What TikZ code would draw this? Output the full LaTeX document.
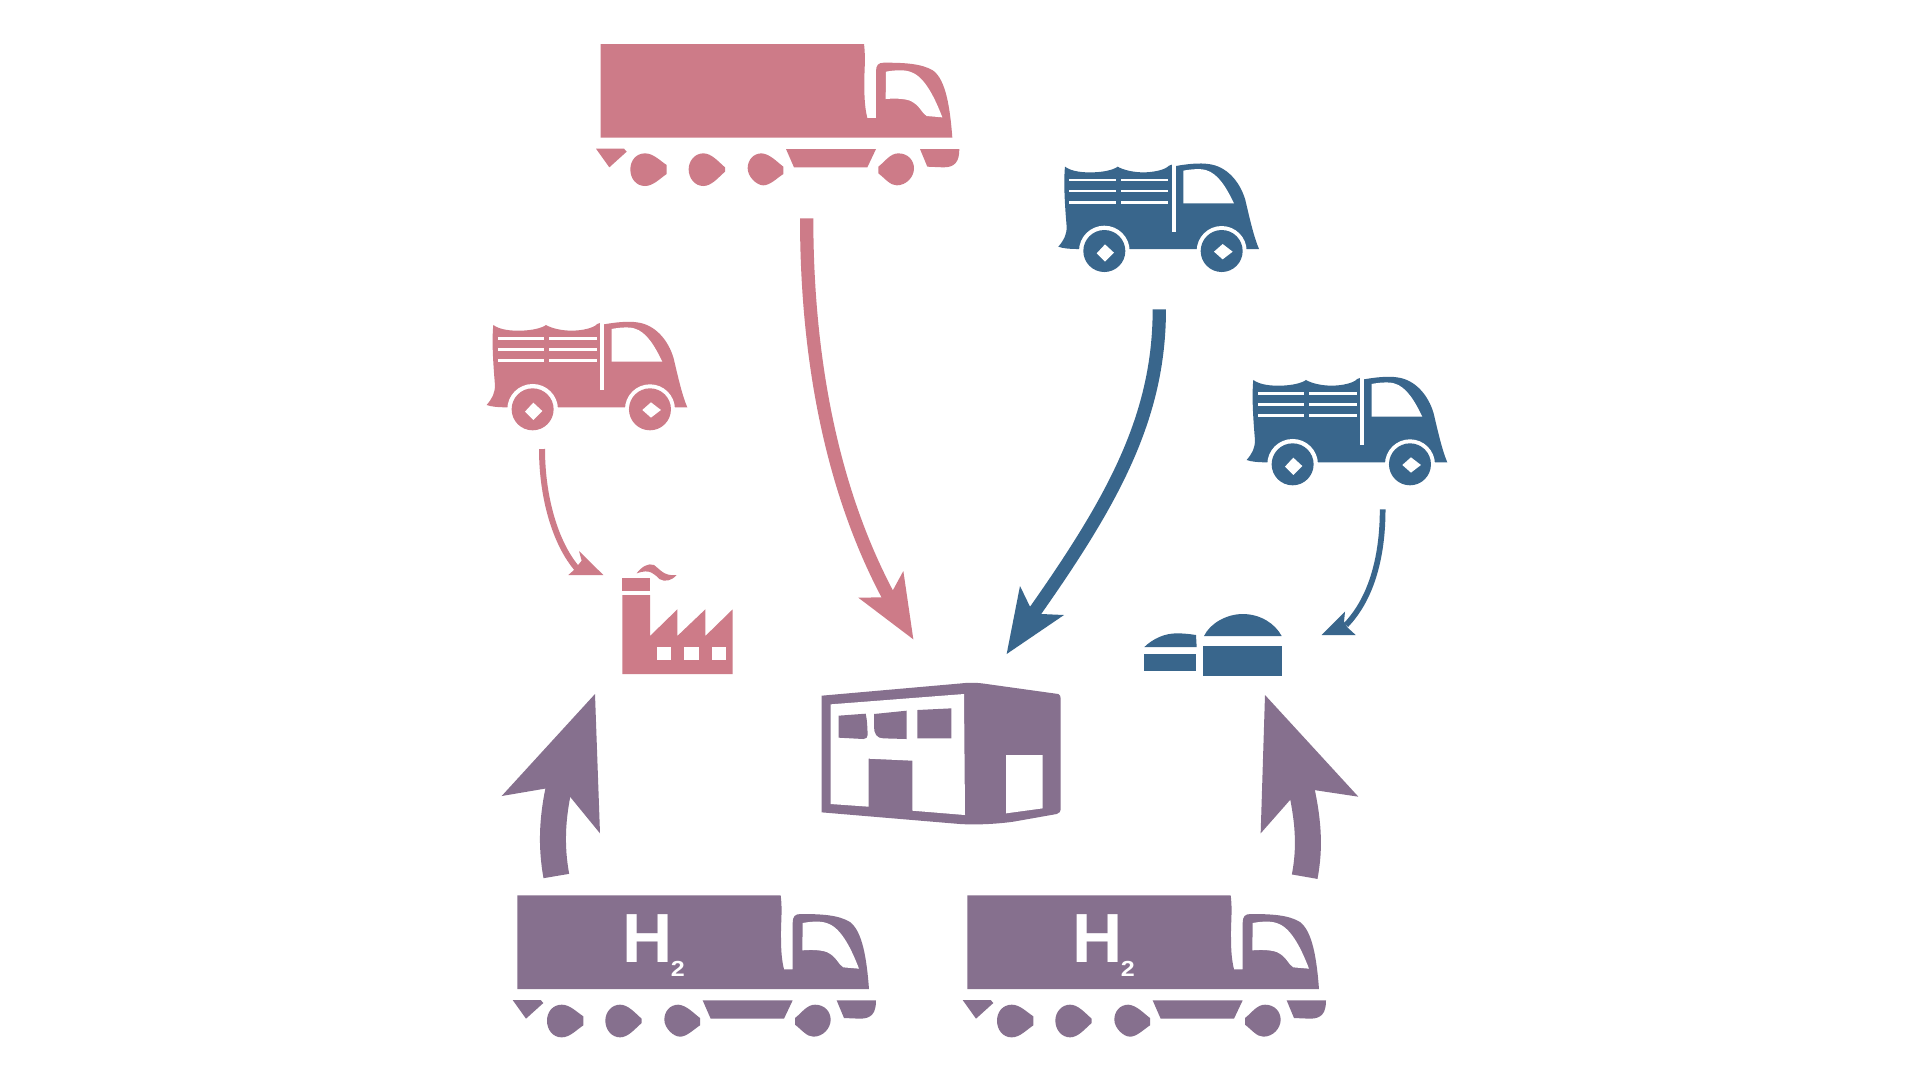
\documentclass[tikz,border=0pt]{standalone}
\usepackage{fontspec}
\setmainfont{Liberation Sans}
\definecolor{rose}{RGB}{205,123,136}
\definecolor{steel}{RGB}{57,102,140}
\definecolor{plum}{RGB}{134,112,142}
\newcommand{\longtruckbody}{%
    \fill[pic actions] (62,42) -- (852,42) .. controls (858,90) and (852,120) .. (853,170) .. controls (853,210) and (856,240) .. (862,264)
      -- (888,264) -- (888,125) .. controls (888,105) and (895,98) .. (912,98) .. controls (970,98) and (1025,100) .. (1060,122)
      .. controls (1097,150) and (1110,230) .. (1117,323) -- (62,323) -- cycle;
    \fill[white] (918,125) .. controls (945,120) and (975,118) .. (995,127) .. controls (1035,142) and (1065,205) .. (1087,262)
      -- (1040,258) .. controls (1025,250) and (1020,225) .. (990,212) .. controls (970,205) and (940,205) .. (917,207) -- cycle;
    \fill[pic actions] (48,356) -- (132,356) -- (140,365) -- (88,412) -- cycle;
    \fill[pic actions] (195,370) .. controls (220,370) and (240,392) .. (260,405) -- (260,432) .. controls (240,445) and (220,468) .. (195,468)
      .. controls (168,468) and (151,445) .. (151,418) .. controls (151,392) and (168,370) .. (195,370) -- cycle;
    \fill[pic actions] (370,370) .. controls (395,370) and (415,395) .. (435,412) -- (435,425) .. controls (415,442) and (395,468) .. (370,468)
      .. controls (345,468) and (326,445) .. (326,418) .. controls (326,392) and (345,370) .. (370,370) -- cycle;
    \fill[pic actions] (545,370) .. controls (570,372) and (590,395) .. (610,410) -- (610,432) .. controls (590,445) and (570,466) .. (550,466)
      .. controls (530,466) and (503,440) .. (503,415) .. controls (503,390) and (520,370) .. (545,370) -- cycle;
    \fill[pic actions] (618,357) -- (888,357) -- (862,412) -- (642,412) -- cycle;
    \fill[pic actions] (955,370) .. controls (985,370) and (1002,392) .. (1002,415) .. controls (1002,440) and (980,466) .. (950,466)
      .. controls (930,466) and (915,445) .. (895,430) -- (895,410) .. controls (915,395) and (930,370) .. (955,370) -- cycle;
    \fill[pic actions] (1020,357) -- (1138,357) .. controls (1138,395) and (1125,412) .. (1090,412) -- (1042,410) -- cycle;
}
\tikzset{
  stem/.style={line cap=butt},
  pics/longtruck/.style={code={\longtruckbody}},
  pics/hydrogentruck/.style={code={
    \longtruckbody
    \node[anchor=base west,inner sep=0pt,text=white,font=\bfseries\fontsize{19.8}{20}\selectfont] (label) at (376,243)
      {H\hspace{-0.6pt}\raisebox{-3.9pt}{\scalebox{1.15}[1]{\bfseries\fontsize{6.2}{7}\selectfont 2}}};
  }},
  pics/smalltruck/.style={code={
    \fill[pic actions] (75,50) .. controls (95,65) and (130,68) .. (160,67) .. controls (190,66) and (220,60) .. (233,50)
      .. controls (250,60) and (280,67) .. (310,67) .. controls (340,67) and (375,60) .. (387,47) -- (395,44) -- (408,48)
      .. controls (440,42) and (480,38) .. (505,42) .. controls (560,48) and (600,95) .. (616,150)
      .. controls (630,210) and (642,262) .. (657,297) -- (275,297) -- (110,297)
      .. controls (90,297) and (68,295) .. (55,290) .. controls (72,270) and (80,255) .. (80,230)
      .. controls (75,170) and (70,100) .. (75,50) -- cycle;
    \fill[white] (193,303) circle[radius=76];
    \fill[white] (545,303) circle[radius=75];
    \fill[pic actions] (193,303) circle[radius=63];
    \fill[pic actions] (545,303) circle[radius=63];
    \fill[white] (195,283) -- (222,308) -- (195,335) -- (170,310) -- cycle;
    \fill[white] (548,282) -- (578,305) -- (548,328) -- (522,305) -- cycle;
    \foreach \yy in {90,123,157}{
      \fill[white] (88,\yy-4) rectangle (228,\yy+4);
      \fill[white] (243,\yy-4) rectangle (385,\yy+4);
    }
    \fill[white] (395,42) rectangle (408,245);
    \fill[white] (430,62) .. controls (450,58) and (480,55) .. (497,60) .. controls (535,70) and (560,115) .. (582,160) -- (430,160) -- cycle;
  }}
}
\begin{document}
\begin{tikzpicture}[x=0.1mm,y=-0.1mm]
\useasboundingbox (0,0) rectangle (1920,1080);
\fill[white] (0,0) rectangle (1920,1080);

% vehicles
\pic (toptruck) [shift={(580,30)},scale=0.33333,fill=rose] {longtruck};
\pic (hleft) [shift={(496.67,881.33)},scale=0.33333,fill=plum] {hydrogentruck};
\pic (hright) [shift={(946.67,881.33)},scale=0.33333,fill=plum] {hydrogentruck};
\pic (bluevanone) [shift={(1040,150)},scale=0.33333,fill=steel] {smalltruck};
\pic (bluevantwo) [shift={(1228.3,363.3)},scale=0.33333,fill=steel] {smalltruck};
\pic (rosevan) [shift={(468.3,308.3)},scale=0.33333,fill=rose] {smalltruck};

% factory
\begin{scope}[shift={(600,550)},scale=0.33333]
  \fill[rose] (67,85) rectangle (150,122);
  \fill[rose] (67,135) -- (150,135) -- (150,258) -- (232,178) -- (232,258) -- (316,178) -- (316,258) -- (398,178) -- (398,372) -- (67,372) -- cycle;
  \fill[white] (170,290) rectangle (212,330);
  \fill[white] (253,290) rectangle (296,330);
  \fill[white] (336,290) rectangle (379,330);
  \fill[rose] (110,70) .. controls (125,50) and (145,38) .. (162,45) .. controls (178,55) and (190,80) .. (230,75)
    .. controls (215,92) and (195,97) .. (178,87) .. controls (163,72) and (150,55) .. (110,70) -- cycle;

  % warehouse
  \fill[plum] (665,437) -- (1085,400) .. controls (1110,397) and (1135,398) .. (1160,402) -- (1375,432)
    .. controls (1380,434) and (1382,440) .. (1382,445) -- (1382,775) .. controls (1382,785) and (1378,790) .. (1370,792)
    -- (1240,815) .. controls (1190,822) and (1130,825) .. (1080,822) -- (665,787) -- cycle;
  \fill[white] (692,463) -- (1092,432) -- (1095,795) -- (937,782) -- (937,632) -- (806,626) -- (806,770) -- (692,762) -- cycle;
  \fill[plum] (716,497) -- (797,491) .. controls (802,510) and (802,535) .. (803,555) .. controls (803,562) and (798,567) .. (790,567) -- (716,563) -- cycle;
  \fill[plum] (822,492) -- (920,482) -- (920,567) -- (850,565) .. controls (830,565) and (822,550) .. (822,530) -- cycle;
  \fill[plum] (952,480) -- (1054,475) -- (1054,565) -- (952,565) -- cycle;
  \fill[white] (1218,615) -- (1328,615) -- (1328,775) -- (1218,790) -- cycle;
\end{scope}

% silos
\begin{scope}[shift={(1100,590)},scale=0.33333]
  \fill[steel] (133,171) .. controls (160,145) and (195,130) .. (230,130) .. controls (250,130) and (270,132) .. (288,135) -- (290,171) -- cycle;
  \fill[steel] (133,193) rectangle (289,242);
  \fill[steel] (312,138) .. controls (330,100) and (380,72) .. (428,72) .. controls (480,72) and (525,100) .. (545,138) -- cycle;
  \fill[steel] (310,167) rectangle (547,258);
\end{scope}

% arrow: top truck to warehouse
\begin{scope}[shift={(780,200)},scale=0.33333]
  \coordinate (toptruckfoot) at (80,55);
  \coordinate (roseneck) at (325,1188);
  \coordinate (rosetip) at (400,1318);
  \draw[rose,stem,line width=1.33mm] (toptruckfoot) .. controls (80,460) and (150,860) .. (roseneck);
  \fill[rose] (338,1172) -- (370,1113) -- (rosetip) -- (235,1193) -- (305,1192) -- cycle;
  % arrow: blue van to warehouse
  \coordinate (bluevanfoot) at (1138,328);
  \coordinate (blueneck) at (762,1238);
  \coordinate (bluetip) at (680,1362);
  \draw[steel,stem,line width=1.33mm] (bluevanfoot) .. controls (1138,650) and (1000,900) .. (blueneck);
  \fill[steel] (750,1220) -- (720,1158) -- (bluetip) -- (852,1245) -- (785,1242) -- cycle;
\end{scope}

% arrow: rose van to factory
\begin{scope}[shift={(480,310)},scale=0.33333]
  \coordinate (rosevanfoot) at (186,417);
  \coordinate (thinroseneck) at (293,778);
  \coordinate (thinrosetip) at (370,795);
  \draw[rose,stem,line width=0.6mm] (rosevanfoot) .. controls (186,560) and (225,700) .. (thinroseneck);
  \fill[rose] (305,752) -- (297,723) -- (thinrosetip) -- (265,795) -- (282,780) -- cycle;
\end{scope}

% arrow: second blue van to silos
\begin{scope}[shift={(1220,360)},scale=0.33333]
  \coordinate (bluevantwofoot) at (488,448);
  \coordinate (thinblueneck) at (378,795);
  \coordinate (thinbluetip) at (305,825);
  \draw[steel,stem,line width=0.57mm] (bluevantwofoot) .. controls (488,600) and (450,720) .. (thinblueneck);
  \fill[steel] (372,785) -- (375,755) -- (thinbluetip) -- (407,825) -- (382,802) -- cycle;
\end{scope}

% arrow: left hydrogen truck to factory
\begin{scope}[shift={(480,680)},scale=0.33333]
  \coordinate (hleftroof) at (229,588);
  \coordinate (plumneckl) at (242,300);
  \coordinate (plumtipl) at (345,42);
  \draw[plum,stem,line width=2.6mm] (hleftroof) .. controls (213,500) and (215,410) .. (plumneckl);
  \fill[plum] (plumtipl) -- (360,460) -- (270,350) -- (200,325) -- (65,348) -- cycle;
\end{scope}

% arrow: right hydrogen truck to silos
\begin{scope}[shift={(1240,680)},scale=0.33333]
  \coordinate (hrightroof) at (194,590);
  \coordinate (plumneckr) at (178,300);
  \coordinate (plumtipr) at (75,45);
  \draw[plum,stem,line width=2.6mm] (hrightroof) .. controls (211,500) and (206,420) .. (plumneckr);
  \fill[plum] (plumtipr) -- (355,350) -- (222,330) -- (150,360) -- (62,460) -- cycle;
\end{scope}
\end{tikzpicture}
\end{document}
